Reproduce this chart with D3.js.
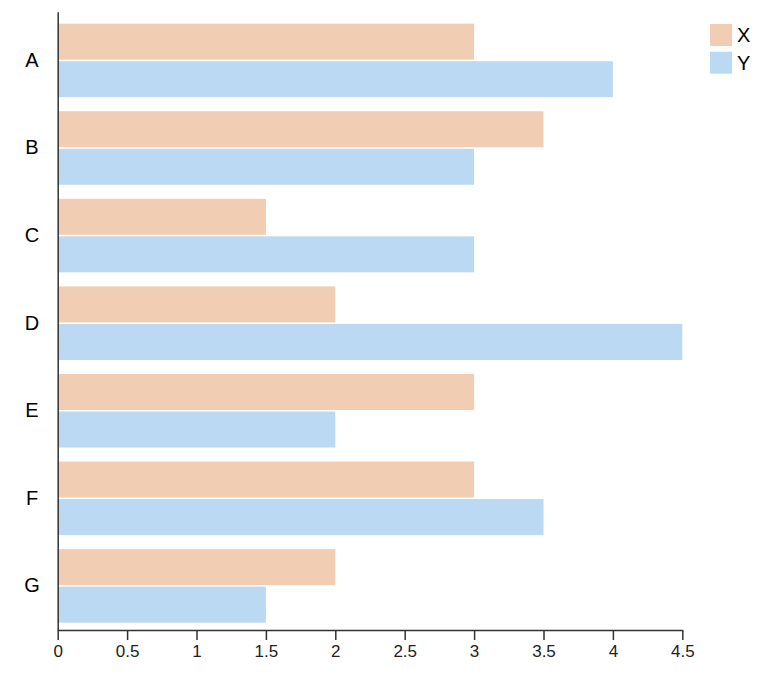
<!DOCTYPE html>
<html><head><meta charset="utf-8">
<script src="https://cdn.jsdelivr.net/npm/d3@7"></script>
<style>body{margin:0;background:#fff;} text{font-family:"Liberation Sans",Arial,sans-serif;}</style>
</head><body>
<svg id="c" width="777" height="682"></svg>
<script>
const categories = ["A","B","C","D","E","F","G"];
const seriesNames = ["X","Y"];
const valuesX = [3, 3.5, 1.5, 2, 3, 3, 2];
const valuesY = [4, 3, 3, 4.5, 2, 3.5, 1.5];
const xTicks = [0, 0.5, 1, 1.5, 2, 2.5, 3, 3.5, 4, 4.5];
const colors = ["#f1cdb3", "#bbd9f3"];

const data = categories.map((c, i) => ({cat: c, X: valuesX[i], Y: valuesY[i]}));
const svg = d3.select("#c");

const x = d3.scaleLinear().domain([0, 4.5]).range([57.7, 682.3]);
const y0 = d3.scaleBand().domain(categories).range([11.7, 630])
  .paddingInner(0.16).paddingOuter(0.11).align(0.62);
const y1 = d3.scaleBand().domain(seriesNames).range([0, y0.bandwidth()]).paddingInner(0.04);
const color = d3.scaleOrdinal().domain(seriesNames).range(colors);

const g = svg.append("g");
g.selectAll("g.grp").data(data).join("g").attr("class","grp")
  .attr("transform", d => `translate(0,${y0(d.cat)})`)
  .selectAll("rect").data(d => seriesNames.map(k => ({k, v: d[k]}))).join("rect")
  .attr("x", x(0)).attr("y", d => y1(d.k))
  .attr("width", d => x(d.v) - x(0)).attr("height", y1.bandwidth())
  .attr("fill", d => color(d.k));

// x axis
const xa = svg.append("g").attr("transform", "translate(0,630)")
  .call(d3.axisBottom(x).tickValues(xTicks).tickFormat(d3.format("")).tickSize(10).tickPadding(5).tickSizeOuter(0));
xa.selectAll("path,line").attr("stroke", "#333").attr("stroke-width", 1.5);
xa.selectAll("text").attr("font-size", 17).attr("fill", "#222").attr("font-family", '"Liberation Sans",Arial,sans-serif');

// y axis
const ya = svg.append("g").attr("transform", `translate(${x(0)},0)`)
  .call(d3.axisLeft(y0).tickSize(0).tickSizeOuter(0).tickPadding(26));
ya.select("path").attr("stroke", "#333").attr("stroke-width", 1.5);
ya.selectAll("text").attr("font-size", 20).attr("fill", "#000").attr("text-anchor", "middle")
  .attr("x", 32 - x(0)).attr("font-family", '"Liberation Sans",Arial,sans-serif');

// legend
const lg = svg.append("g").selectAll("g").data(seriesNames).join("g")
  .attr("transform", (d, i) => `translate(710,${24 + i * 27.7})`);
lg.append("rect").attr("width", 22).attr("height", 22).attr("fill", d => color(d));
lg.append("text").attr("x", 27).attr("y", 11).attr("dy", "0.35em").attr("font-size", 20)
  .attr("fill", "#000").text(d => d);
</script>
</body></html>
